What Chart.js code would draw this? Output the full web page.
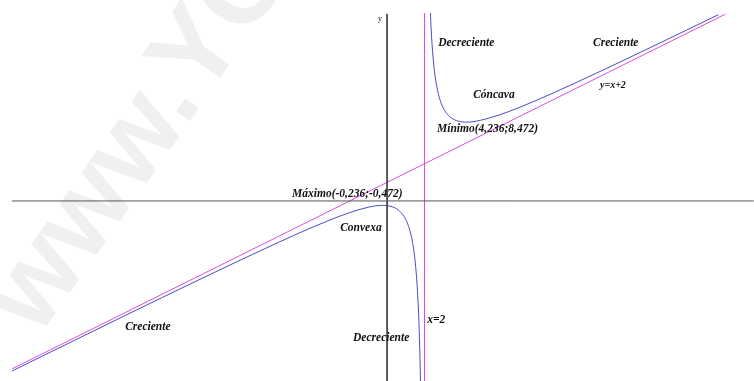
<!DOCTYPE html>
<html>
<head>
<meta charset="utf-8">
<title>f(x) = (x²+1)/(x-2)</title>
<script src="https://cdn.jsdelivr.net/npm/chart.js@4/dist/chart.umd.min.js"></script>
<style>
  html, body { margin: 0; padding: 0; background: #fff; }
  #wrap { width: 754px; height: 381px; position: relative; }
</style>
</head>
<body>
<div id="wrap"><canvas id="grafica"></canvas></div>
<script>
// rama izquierda (x < 2)
const izqX = [-20.05, -18, -16, -14, -12, -10, -8, -6, -5, -4, -3, -2.5, -2, -1.5, -1, -0.6, -0.236, 0, 0.3, 0.6, 0.9, 1.1, 1.3, 1.4, 1.5, 1.6, 1.65, 1.7, 1.74, 1.76, 1.784];
const izqY = [-18.28, -16.25, -14.28, -12.31, -10.36, -8.42, -6.5, -4.63, -3.71, -2.83, -2.0, -1.61, -1.25, -0.93, -0.67, -0.52, -0.472, -0.5, -0.64, -0.97, -1.65, -2.46, -3.84, -4.93, -6.5, -8.9, -10.64, -12.97, -15.49, -17.07, -19.36];

// rama derecha (x > 2)
const derX = [2.315, 2.35, 2.4, 2.5, 2.6, 2.8, 3, 3.3, 3.6, 4, 4.236, 4.6, 5, 6, 7, 8, 10, 12, 14, 16, 17.7];
const derY = [20.19, 18.64, 16.9, 14.5, 12.93, 11.05, 10, 9.15, 8.73, 8.5, 8.472, 8.52, 8.67, 9.25, 10, 10.83, 12.63, 14.5, 16.42, 18.36, 20.02];

// asíntota oblicua y = x + 2
const oblX = [-20.05, 18.07];
const oblY = [-18.05, 20.07];

// asíntota vertical x = 2
const vertX = [2, 2];
const vertY = [20.2, -19.4];

// ejes
const ejeXx = [-20.05, 19.6];
const ejeXy = [0, 0];
const ejeYx = [0, 0];
const ejeYy = [20.1, -19.4];

const rangoX = [-20.69, 19.61];
const rangoY = [-19.35, 21.6];

const etiquetas = [
  { t: 'Decreciente', x: 2.73, y: 16.99 },
  { t: 'Creciente', x: 11.01, y: 16.99 },
  { t: 'Cóncava', x: 4.6, y: 11.4 },
  { t: 'y=x+2', x: 11.38, y: 12.47, f: 'bold italic 10px "Liberation Serif"' },
  { t: 'Mínimo(4,236;8,472)', x: 2.67, y: 7.74 },
  { t: 'Máximo(-0,236;-0,472)', x: -5.08, y: 0.75 },
  { t: 'Convexa', x: -2.51, y: -2.9 },
  { t: 'x=2', x: 2.14, y: -12.8 },
  { t: 'Decreciente', x: -1.82, y: -14.73 },
  { t: 'Creciente', x: -14.0, y: -13.55 },
  { t: 'y', x: -0.48, y: 19.57, f: '8px "Liberation Serif"' }
];

const puntos = (xs, ys) => xs.map((x, i) => ({ x: x, y: ys[i] }));

const linea = (xs, ys, color, extra) => Object.assign({
  data: puntos(xs, ys),
  borderColor: color,
  borderWidth: 1,
  pointRadius: 0,
  showLine: true,
  fill: false
}, extra || {});

// marca de agua de fondo
const marcaAgua = {
  id: 'marcaAgua',
  beforeDatasetsDraw(chart) {
    const c = chart.ctx;
    c.save();
    c.translate(38, 338);
    c.rotate(-55 * Math.PI / 180);
    c.fillStyle = '#f0f0f0';
    c.font = 'bold 112px "Liberation Sans"';
    c.textBaseline = 'alphabetic';
    c.fillText('www.YO', 0, 0);
    c.restore();
  }
};

const textos = {
  id: 'textos',
  afterDatasetsDraw(chart) {
    const c = chart.ctx;
    const sx = chart.scales.x, sy = chart.scales.y;
    c.save();
    c.fillStyle = '#111';
    c.textAlign = 'left';
    c.textBaseline = 'middle';
    etiquetas.forEach(e => {
      c.font = e.f || 'bold italic 11.5px "Liberation Serif"';
      c.fillText(e.t, sx.getPixelForValue(e.x), sy.getPixelForValue(e.y));
    });
    c.restore();
  }
};

new Chart(document.getElementById('grafica'), {
  type: 'scatter',
  data: {
    datasets: [
      linea(ejeXx, ejeXy, '#555555'),
      linea(ejeYx, ejeYy, '#444444'),
      linea(oblX, oblY, '#dd4edd'),
      linea(vertX, vertY, '#dd4edd'),
      linea(izqX, izqY, '#4a4ac8', { cubicInterpolationMode: 'monotone' }),
      linea(derX, derY, '#4a4ac8', { cubicInterpolationMode: 'monotone' })
    ]
  },
  options: {
    responsive: true,
    maintainAspectRatio: false,
    animation: false,
    layout: { padding: 0 },
    plugins: {
      legend: { display: false },
      tooltip: { enabled: false }
    },
    scales: {
      x: { type: 'linear', min: rangoX[0], max: rangoX[1], display: false },
      y: { type: 'linear', min: rangoY[0], max: rangoY[1], display: false }
    }
  },
  plugins: [marcaAgua, textos]
});
</script>
</body>
</html>
